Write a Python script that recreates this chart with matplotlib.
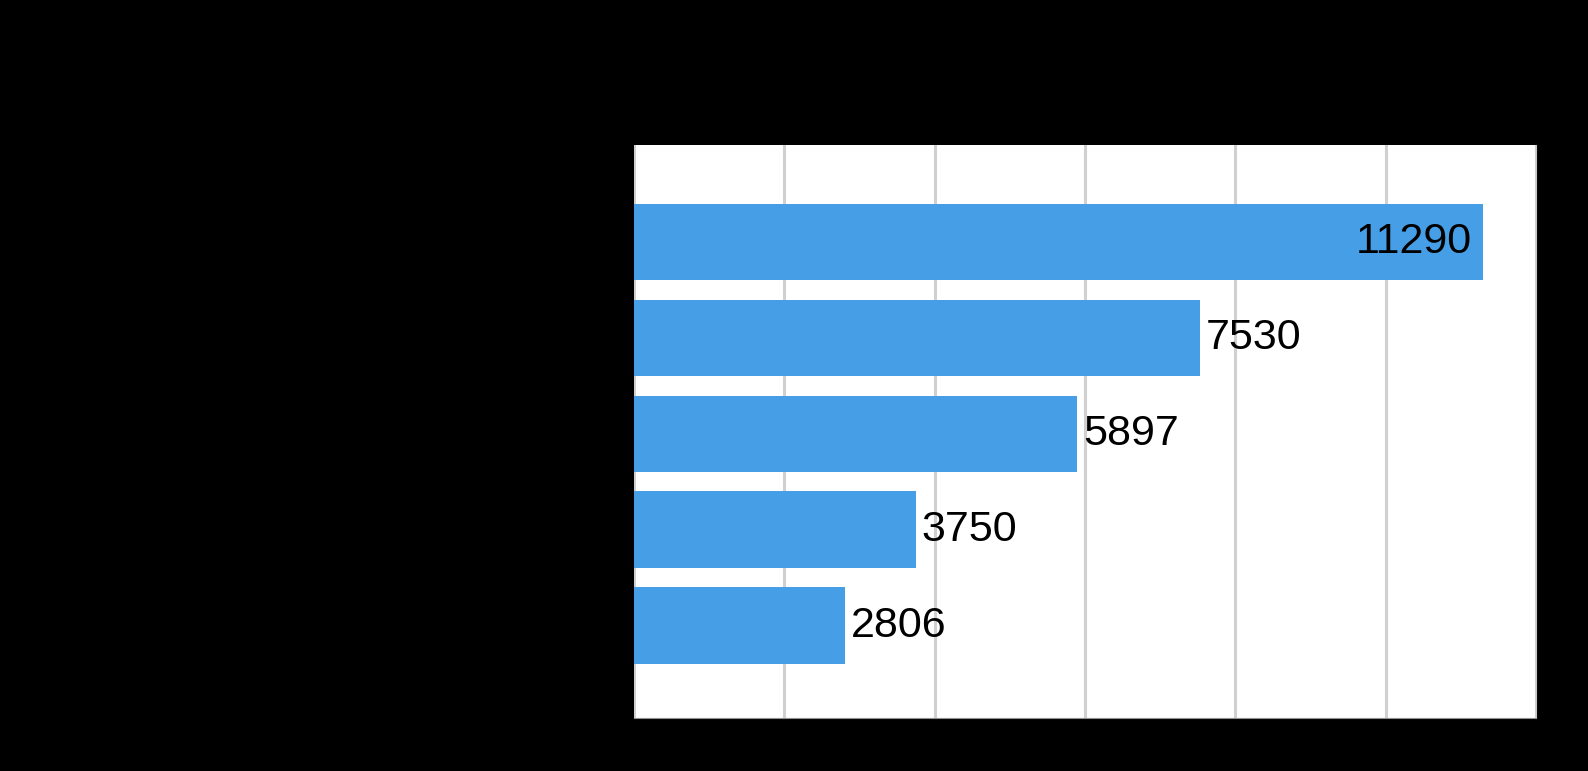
import matplotlib.pyplot as plt

# ranks top to bottom; category names are not readable in the reference
categories = ["1", "2", "3", "4", "5"]
values = [11290, 7530, 5897, 3750, 2806]

plt.rcParams["font.family"] = ["Liberation Sans", "DejaVu Sans"]

fig = plt.figure(figsize=(15.88, 7.71), dpi=100, facecolor="black")
ax = fig.add_axes([634 / 1588, 1 - 718 / 771, (1536 - 634) / 1588, (718 - 145) / 771])
ax.set_facecolor("white")

ypos = list(range(len(categories)))[::-1]
bars = ax.barh(ypos, values, height=0.8, color="#469fe6", zorder=2)

for y, v in zip(ypos, values):
    if v > 10000:
        ax.annotate(str(v), (v, y), xytext=(-8, 0), textcoords="offset points",
                    ha="right", va="center", fontsize=31, color="black", zorder=3)
    else:
        ax.annotate(str(v), (v, y), xytext=(4, 0), textcoords="offset points",
                    ha="left", va="center", fontsize=31, color="black", zorder=3)

ax.set_xlim(0, 12000)
ax.set_ylim(-0.96, 5.01)
ax.set_xticks(range(0, 12001, 2000))
ax.set_yticks(ypos)
ax.set_yticklabels([])
ax.set_xticklabels([])
ax.tick_params(length=0)
ax.grid(axis="x", color="#d0d0d0", linewidth=2.2, zorder=1)
for s in ["top", "left"]:
    ax.spines[s].set_visible(False)
ax.spines["bottom"].set_color("#909090")
ax.spines["right"].set_color("#c8c8c8")

fig.savefig("out.png", dpi=100, facecolor="black")
